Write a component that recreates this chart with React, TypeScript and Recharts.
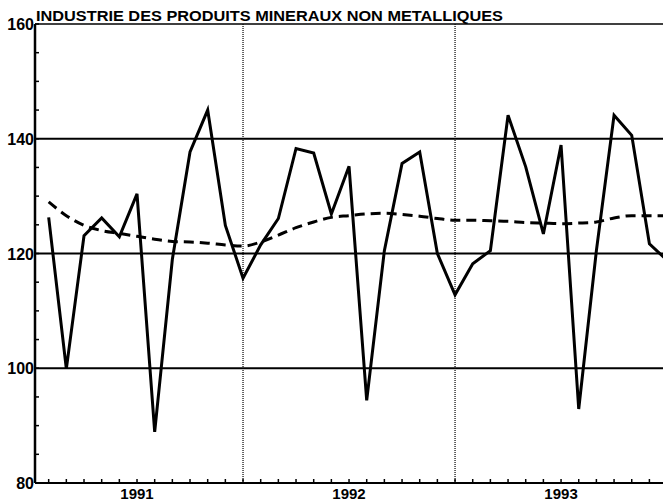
import React from "react";
import { LineChart, Line, XAxis, YAxis, ReferenceLine } from "recharts";

const TITLE = "INDUSTRIE DES PRODUITS MINERAUX NON METALLIQUES";

// month index: 0 = Jan 1991
const months = [1,2,3,4,5,6,7,8,9,10,11,12,13,14,15,16,17,18,19,20,21,22,23,24,25,26,27,28,29,30,31,32,33,34,35,36];
const rawSeries = [126.3,99.9,123.1,126.2,122.9,130.4,88.9,119,137.7,145.0,124.9,115.7,121.5,126.1,138.3,137.5,126.9,135.2,94.4,120.5,135.7,137.7,120,112.8,118.2,120.5,144.1,135.1,123.4,138.9,92.9,120.5,144.1,140.6,121.7,118.8];
const trendSeries = [129.0,126.6,124.9,124.0,123.5,123.0,122.5,122.1,122.0,121.8,121.5,121.3,122.0,123.2,124.5,125.5,126.3,126.6,126.9,127.0,126.8,126.5,126.1,125.8,125.8,125.7,125.6,125.4,125.3,125.2,125.3,125.5,126.2,126.6,126.6,126.6];

const yearLabels = [
  { pos: 6, label: "1991" },
  { pos: 18, label: "1992" },
  { pos: 30, label: "1993" },
];
const yTicks = [80,85,90,95,100,105,110,115,120,125,130,135,140,145,150,155,160];
const yLabeled = [80,100,120,140,160];
const gridValues = [100,120,140];
const yearBoundaries = [12,24];
const monthTicks = [1,2,3,4,5,6,7,8,9,10,11,12,13,14,15,16,17,18,19,20,21,22,23,24,25,26,27,28,29,30,31,32,33,34,35];

const data = months.map((m, i) => ({ m, raw: rawSeries[i], trend: trendSeries[i] }));

const FONT = "'Liberation Sans', Arial, sans-serif";

const XTick = (props: any) => {
  const { x, y, payload } = props;
  const v = payload.value;
  const yl = yearLabels.find((yy) => yy.pos === v);
  return (
    <g>
      <line x1={x} y1={y} x2={x} y2={y - 4} stroke="#000" strokeWidth={1.5} />
      {yl && (
        <text x={x} y={y + 16} textAnchor="middle" fontFamily={FONT} fontWeight="bold" fontSize={15} fill="#000">
          {yl.label}
        </text>
      )}
    </g>
  );
};

const YTick = (props: any) => {
  const { x, y, payload } = props;
  const v = payload.value;
  return (
    <g>
      <line x1={x} y1={y} x2={x + 4} y2={y} stroke="#000" strokeWidth={1.5} />
      {yLabeled.includes(v) && (
        <text x={x - 1} y={y + 6} textAnchor="end" fontFamily={FONT} fontWeight="bold" fontSize={16} fill="#000">
          {v}
        </text>
      )}
    </g>
  );
};

export default function App() {
  return (
    <div style={{ position: "absolute", left: 0, top: 0, width: 663, height: 501, background: "#fff" }}>
      <LineChart width={663} height={501} data={data} margin={{ top: 24, right: 0, bottom: 0, left: 0 }}>
        <XAxis
          dataKey="m"
          type="number"
          domain={[0.226, 35.77]}
          allowDataOverflow
          ticks={monthTicks}
          interval={0}
          height={18}
          tickSize={0}
          tickMargin={0}
          tickLine={false}
          tick={<XTick />}
          axisLine={{ stroke: "#000", strokeWidth: 2 }}
        />
        <YAxis
          type="number"
          domain={[80, 160]}
          ticks={yTicks}
          interval={0}
          width={35}
          tickSize={0}
          tickMargin={0}
          tickLine={false}
          tick={<YTick />}
          axisLine={{ stroke: "#000", strokeWidth: 2.5 }}
        />
        {gridValues.map((g) => (
          <ReferenceLine key={g} y={g} stroke="#000" strokeWidth={2} />
        ))}
        <ReferenceLine y={160} stroke="#000" strokeWidth={1.5} />
        {yearBoundaries.map((b) => (
          <ReferenceLine key={b} x={b} stroke="#000" strokeWidth={1.2} strokeDasharray="1 1" />
        ))}
        <Line
          dataKey="trend"
          type="monotone"
          stroke="#000"
          strokeWidth={3}
          strokeDasharray="10 6"
          dot={false}
          isAnimationActive={false}
        />
        <Line
          dataKey="raw"
          type="linear"
          stroke="#000"
          strokeWidth={3}
          dot={false}
          isAnimationActive={false}
        />
      </LineChart>
      <svg width={663} height={30} style={{ position: "absolute", left: 0, top: 0 }}>
        <text x={36} y={21} fontFamily={FONT} fontWeight="bold" fontSize={15} fill="#000" textLength={467} lengthAdjust="spacingAndGlyphs">
          {TITLE}
        </text>
      </svg>
    </div>
  );
}
